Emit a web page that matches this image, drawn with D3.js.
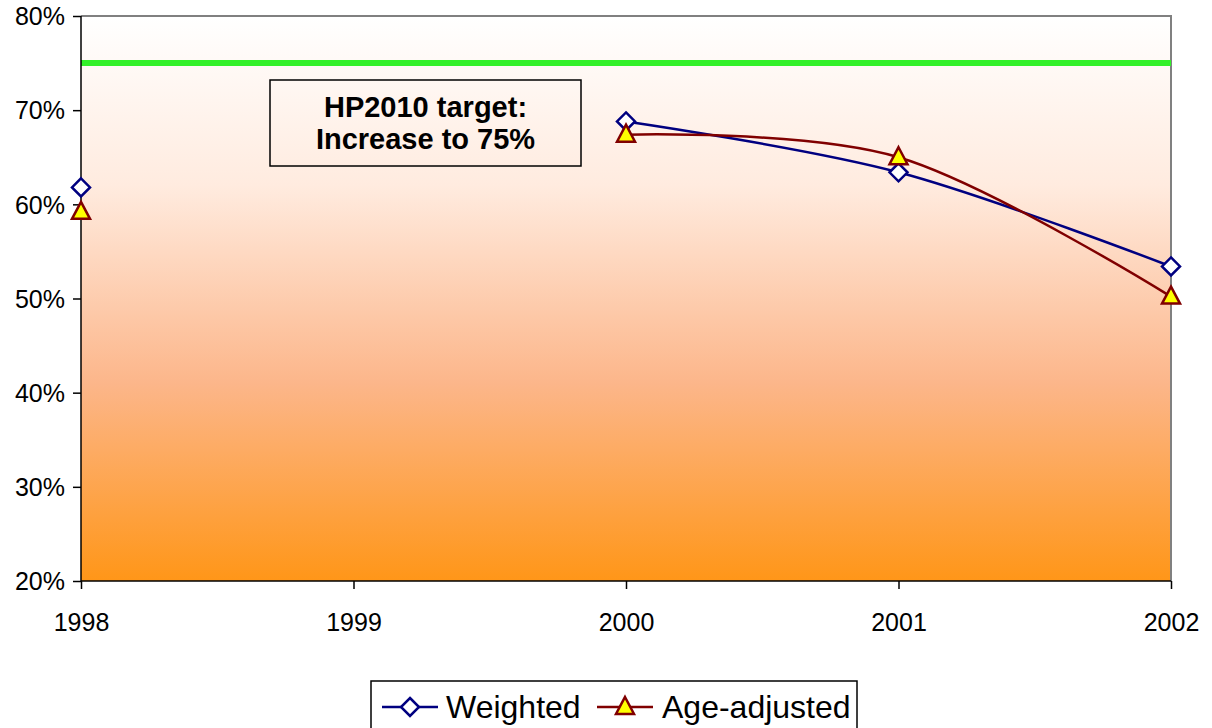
<!DOCTYPE html>
<html><head><meta charset="utf-8">
<script src="https://cdn.jsdelivr.net/npm/d3@7"></script>
<style>body{margin:0;background:#fff}svg text{font-family:"Liberation Sans",Arial,sans-serif}</style>
</head><body><svg id="c" width="1212" height="728"></svg>
<script>
const years = ["1998","1999","2000","2001","2002"];
const weighted = [61.8, null, 68.8, 63.4, 53.4];
const ageAdjusted = [59.2, null, 67.4, 65.0, 50.2];
const target = 75;
const yTicks = [20,30,40,50,60,70,80];

const svg = d3.select("#c");
const L=81, R=1171, T=16, B=581;
const x = d3.scalePoint().domain(years).range([L,R]);
const y = d3.scaleLinear().domain([20,80]).range([B,T]);

const defs = svg.append("defs");
const g = defs.append("linearGradient").attr("id","bg").attr("x1",0).attr("y1",0).attr("x2",0).attr("y2",1);
[[0,"#FFFFFF"],[0.3,"#FFEBDF"],[0.65,"#FCB68A"],[1,"#FF9618"]].forEach(s=>g.append("stop").attr("offset",s[0]).attr("stop-color",s[1]));

svg.append("rect").attr("x",L).attr("y",T).attr("width",R-L).attr("height",B-T).attr("fill","url(#bg)");
svg.append("path").attr("d",`M${L},${T}H${R}V${B}`).attr("fill","none").attr("stroke","#808080").attr("stroke-width",2);

svg.append("line").attr("x1",L).attr("x2",R).attr("y1",y(target)).attr("y2",y(target)).attr("stroke","#33F02A").attr("stroke-width",6);

const ya = svg.append("g").attr("transform",`translate(${L},0)`).call(d3.axisLeft(y).tickValues(yTicks).tickFormat(d=>d+"%").tickSize(8).tickPadding(4));
const xa = svg.append("g").attr("transform",`translate(0,${B})`).call(d3.axisBottom(x).tickSize(8).tickPadding(24));
[ya,xa].forEach(a=>{a.attr("font-size",25).attr("font-family","Liberation Sans, Arial, sans-serif");a.selectAll("path,line").attr("stroke","#000").attr("stroke-width",1.5);a.selectAll("text").attr("font-size",25).attr("fill","#000");});
ya.select(".domain").attr("d",`M0,${T}V${B}`);
xa.select(".domain").attr("d",`M${L},0H${R}`);
xa.selectAll(".tick line").attr("y1",0);
ya.selectAll("text").attr("x",-16).attr("dy","0.35em");

const bx=270, by=80, bw=311, bh=86;
svg.append("rect").attr("x",bx).attr("y",by).attr("width",bw).attr("height",bh).attr("fill","none").attr("stroke","#000").attr("stroke-width",1.5);
svg.append("text").attr("x",bx+bw/2).attr("y",by+37).attr("text-anchor","middle").attr("font-weight","bold").attr("font-size",29).text("HP2010 target:");
svg.append("text").attr("x",bx+bw/2).attr("y",by+69).attr("text-anchor","middle").attr("font-weight","bold").attr("font-size",29).text("Increase to 75%");

const line = d3.line().defined(d=>d.v!=null).x(d=>x(d.k)).y(d=>y(d.v)).curve(d3.curveCatmullRom.alpha(0));
const series = [
  {name:"Weighted", vals:weighted, color:"#000080", marker:"diamond"},
  {name:"Age-adjusted", vals:ageAdjusted, color:"#800000", marker:"triangle"}
];
function marker(sel, type){
  if(type==="diamond"){
    sel.append("path").attr("d","M0,-9L9,0L0,9L-9,0Z").attr("fill","#fff").attr("stroke","#000080").attr("stroke-width",2.5);
  } else {
    sel.append("path").attr("d","M0,-10L9,7L-9,7Z").attr("fill","#FFFF00").attr("stroke","#800000").attr("stroke-width",2.5);
  }
}
series.forEach(s=>{
  const data = years.map((k,i)=>({k,v:s.vals[i]}));
  svg.append("path").datum(data).attr("d",line).attr("fill","none").attr("stroke",s.color).attr("stroke-width",2.5);
});
series.forEach(s=>{
  years.forEach((k,i)=>{ if(s.vals[i]!=null){ const m=svg.append("g").attr("transform",`translate(${x(k)},${y(s.vals[i])})`); marker(m,s.marker);} });
});

const lg = svg.append("g");
lg.append("rect").attr("x",371).attr("y",681).attr("width",486).attr("height",60).attr("fill","#fff").attr("stroke","#000").attr("stroke-width",1.5);
const items=[{s:series[0],x0:382,tx:446},{s:series[1],x0:597,tx:662}];
items.forEach(it=>{
  lg.append("line").attr("x1",it.x0).attr("x2",it.x0+56).attr("y1",707).attr("y2",707).attr("stroke",it.s.color).attr("stroke-width",2.5);
  const m=lg.append("g").attr("transform",`translate(${it.x0+28},707)`); marker(m,it.s.marker);
  lg.append("text").attr("x",it.tx).attr("y",718).attr("font-size",32).text(it.s.name);
});
</script></body></html>
